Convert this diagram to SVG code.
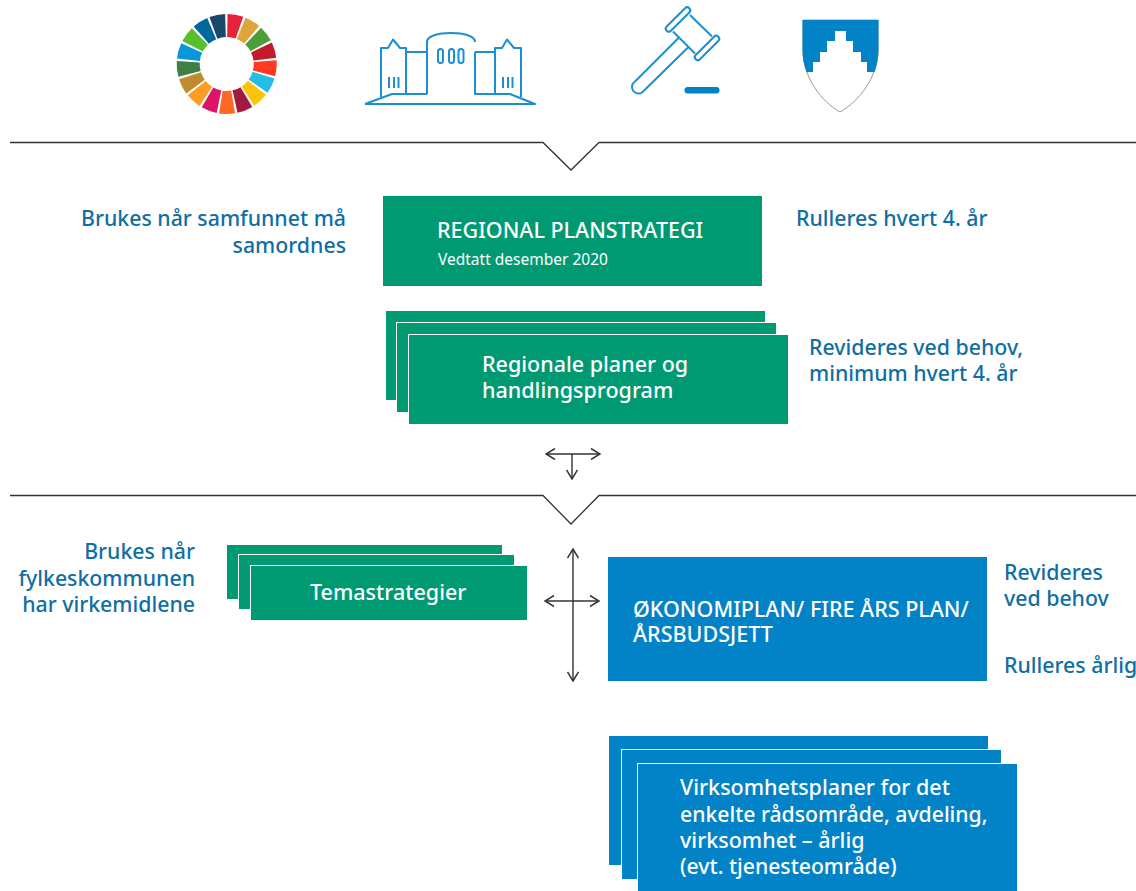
<svg xmlns="http://www.w3.org/2000/svg" width="1136" height="891" viewBox="0 0 1136 891">
<style>
text{font-family:"Noto Sans","Open Sans","Liberation Sans",sans-serif;font-weight:500}
.lbl{font-size:21.300px;fill:#0f6ea3}
.end{text-anchor:end}
.w{fill:#fff;font-size:21.500px}
.g{fill:#009a72;stroke:#fff;stroke-width:1}
.b{fill:#0283c8;stroke:#fff;stroke-width:1}
.ln{fill:none;stroke:#333;stroke-width:1.3}
.ar{fill:none;stroke:#333;stroke-width:1.4}
.ic{fill:none;stroke:#1c8fd0;stroke-width:2;stroke-linejoin:round}
.seg{fill:none;stroke-width:23;stroke-dasharray:18.4 341.6}
</style>
<defs>
<marker id="h" viewBox="0 0 12 12" refX="11" refY="6" markerWidth="12" markerHeight="12" markerUnits="userSpaceOnUse" orient="auto-start-reverse"><path d="M2 0.5L11 6L2 11.5" fill="none" stroke="#333" stroke-width="1.5"/></marker>
</defs>
<g id="icon-sdg" transform="translate(226.7 64)">
<circle class="seg" pathLength="360" r="38.5" stroke="#E5243B" transform="rotate(-89)"/>
<circle class="seg" pathLength="360" r="38.5" stroke="#DDA63A" transform="rotate(-67.8)"/>
<circle class="seg" pathLength="360" r="38.5" stroke="#4C9F38" transform="rotate(-46.6)"/>
<circle class="seg" pathLength="360" r="38.5" stroke="#C5192D" transform="rotate(-25.5)"/>
<circle class="seg" pathLength="360" r="38.5" stroke="#FF3A21" transform="rotate(-4.3)"/>
<circle class="seg" pathLength="360" r="38.5" stroke="#26BDE2" transform="rotate(16.9)"/>
<circle class="seg" pathLength="360" r="38.5" stroke="#FCC30B" transform="rotate(38.1)"/>
<circle class="seg" pathLength="360" r="38.5" stroke="#A21942" transform="rotate(59.2)"/>
<circle class="seg" pathLength="360" r="38.5" stroke="#FD6925" transform="rotate(80.4)"/>
<circle class="seg" pathLength="360" r="38.5" stroke="#DD1367" transform="rotate(101.6)"/>
<circle class="seg" pathLength="360" r="38.5" stroke="#FD9D24" transform="rotate(122.8)"/>
<circle class="seg" pathLength="360" r="38.5" stroke="#BF8B2E" transform="rotate(144)"/>
<circle class="seg" pathLength="360" r="38.5" stroke="#3F7E44" transform="rotate(165.1)"/>
<circle class="seg" pathLength="360" r="38.5" stroke="#0A97D9" transform="rotate(186.3)"/>
<circle class="seg" pathLength="360" r="38.5" stroke="#56C02B" transform="rotate(207.5)"/>
<circle class="seg" pathLength="360" r="38.5" stroke="#00689D" transform="rotate(228.7)"/>
<circle class="seg" pathLength="360" r="38.5" stroke="#19486A" transform="rotate(249.8)"/>
</g>
<g id="icon-building" class="ic">
<path d="M365 104H535L510 94H475V52M365 104L392 94H427M381 97V48H388L393 39.500L400 48H406V94"/>
<path d="M406 52H427M427 94V42C427 36 438 33 451 33C464 33 475 36 475 42M475 52H495M495 94V48H502L507 39.500L514 48H521V97"/>
<rect x="438" y="49" width="5" height="14" rx="2.500"/><rect x="449" y="49" width="5" height="14" rx="2.500"/><rect x="458.500" y="49" width="5" height="14" rx="2.500"/>
<path d="M389 77V88M394 77V88M398.500 77V88M503 77V88M508 77V88M512.500 77V88"/>
</g>
<g id="icon-gavel">
<g class="ic">
<rect x="-16" y="-3" width="32" height="6" rx="3" transform="translate(678 19.500) rotate(-45)"/>
<rect x="-16" y="-3" width="32" height="6" rx="3" transform="translate(707 48) rotate(-45)"/>
<path d="M673 31.500L695 53.500M690 15L712 36.500"/>
<path d="M678.500 38L635 81.500A5 5 0 0 0 642 92.500L688 47.500"/>
</g>
<rect x="684.500" y="87" width="35" height="6.500" rx="3.250" fill="#0283c8"/>
</g>
<g id="icon-shield">
<path d="M803 20H878V50C878 78 858 102 840 112C822 102 803 78 803 50Z" fill="#fff" stroke="#999" stroke-width="1"/>
<path d="M802.500 20H878.500V50C878.500 58 877 65 874.500 72H867V62H861V52H853V41H846V31H835V41H827V52H820V62H813V72H806.500C804 65 802.500 58 802.500 50Z" fill="#0283c8"/>
</g>
<g id="connectors">
<path class="ln" d="M10 142.500H543L571 170L599 142.500H1136"/>
<path class="ln" d="M10 495.500H543L571 524L599 495.500H1136"/>
<path class="ar" d="M546 454H600" marker-start="url(#h)" marker-end="url(#h)"/>
<path class="ar" d="M572 454V479" marker-end="url(#h)"/>
<path class="ar" d="M545 601H599" marker-start="url(#h)" marker-end="url(#h)"/>
<path class="ar" d="M573 549V681" marker-start="url(#h)" marker-end="url(#h)"/>
</g>
<g id="node-planstrategi">
<rect x="383" y="196" width="379" height="90" fill="#009a72"/>
<text x="437" y="238" class="w">REGIONAL PLANSTRATEGI</text>
<text x="438" y="265" fill="#fff" style="font-size:15.500px;font-weight:400">Vedtatt desember 2020</text>
</g>
<g id="node-regionale">
<rect class="g" x="385.500" y="310.500" width="380" height="90"/>
<rect class="g" x="396.500" y="322.500" width="380" height="90"/>
<rect class="g" x="408.500" y="334.500" width="380" height="90"/>
<text x="482" y="372" class="w">Regionale planer og</text>
<text x="482" y="398" class="w">handlingsprogram</text>
</g>
<g id="node-tema">
<rect class="g" x="226.500" y="544.500" width="276" height="55"/>
<rect class="g" x="238.500" y="554.500" width="276" height="55"/>
<rect class="g" x="250.500" y="565.500" width="277" height="55"/>
<text x="310" y="600" class="w">Temastrategier</text>
</g>
<g id="node-okonomi">
<rect x="608" y="557" width="379" height="124" fill="#0283c8"/>
<text x="633" y="617" class="w">ØKONOMIPLAN/ FIRE ÅRS PLAN/</text>
<text x="633" y="642" class="w">ÅRSBUDSJETT</text>
</g>
<g id="node-virksomhet">
<rect class="b" x="608.500" y="735.500" width="380" height="130"/>
<rect class="b" x="621.500" y="749.500" width="380" height="130"/>
<rect class="b" x="637.500" y="763.500" width="380" height="130"/>
<text x="680" y="795" class="w">Virksomhetsplaner for det</text>
<text x="680" y="822" class="w" style="font-size:21.200px">enkelte rådsområde, avdeling,</text>
<text x="680" y="848" class="w">virksomhet – årlig</text>
<text x="680" y="874" class="w" style="font-size:21.200px">(evt. tjenesteområde)</text>
</g>
<g id="labels">
<text class="lbl end" x="346" y="226">Brukes når samfunnet må</text>
<text class="lbl end" x="346" y="253">samordnes</text>
<text class="lbl" x="796" y="226">Rulleres hvert 4. år</text>
<text class="lbl" x="809" y="355">Revideres ved behov,</text>
<text class="lbl" x="809" y="381">minimum hvert 4. år</text>
<text class="lbl end" x="195" y="559">Brukes når</text>
<text class="lbl end" x="195" y="586">fylkeskommunen</text>
<text class="lbl end" x="195" y="612">har virkemidlene</text>
<text class="lbl" x="1004" y="580">Revideres</text>
<text class="lbl" x="1004" y="606">ved behov</text>
<text class="lbl" x="1004" y="673">Rulleres årlig</text>
</g>
</svg>
